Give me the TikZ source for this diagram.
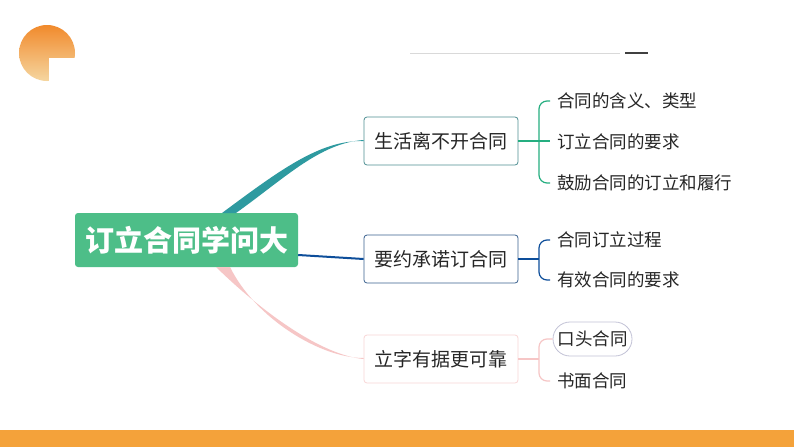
\documentclass[tikz,border=0pt]{standalone}
\usepackage{fontspec}
\setmainfont{Noto Sans CJK SC}
\usetikzlibrary{shapes.misc}
\definecolor{teal1}{HTML}{2E9AA0}
\definecolor{blue1}{HTML}{0D4E9A}
\definecolor{pink1}{HTML}{F6C6C6}
\definecolor{green1}{HTML}{4DBE88}
\definecolor{orng}{HTML}{F4A23A}
\definecolor{logotop}{HTML}{F18A2C}
\definecolor{logobot}{HTML}{F5D6A0}
\tikzset{
  branch/.style={draw=#1,rounded corners=3pt,line width=0.8pt,minimum width=154pt,minimum height=48pt,font=\fontsize{19}{19}\selectfont,text=black!85,fill=white},
  leaf/.style={anchor=west,font=\fontsize{17.5}{17.5}\selectfont,text=black!85,inner sep=0pt},
}
\begin{document}
\begin{tikzpicture}[x=1pt,y=-1pt]
\useasboundingbox (0,0) rectangle (794,447);
\fill[white] (0,0) rectangle (794,447);
% logo
\shade[top color=logotop,bottom color=logobot] (47,53) circle (28);
\fill[white] (49,58) rectangle (78,84);
% top line
\draw[black!15,line width=0.6pt] (410,53) -- (620,53);
\draw[black!75,line width=1.2pt] (625,53) -- (648,53);
% bottom bar
\fill[orng] (0,430) rectangle (794,447);
% nodes
\node[fill=green1,rounded corners=3pt,minimum width=223pt,minimum height=54pt,text=white,font=\fontsize{29}{29}\selectfont\bfseries] (root) at (186.5,240) {订立合同学问大};
\node[branch=teal1!60!gray] (b1) at (441,141) {生活离不开合同};
\node[branch=blue1!60!gray] (b2) at (441,259) {要约承诺订合同};
\node[branch=pink1!70] (b3) at (441,359) {立字有据更可靠};
% root connectors
\fill[teal1] (222,213) .. controls (280,170) and (320,140) .. (b1.west) -- ([yshift=1pt]b1.west) .. controls (320,143) and (285,178) .. (236,213) -- cycle;
\draw[blue1,line width=2pt] (root.east) ++(0,15) .. controls (330,257) .. (b2.west);
\fill[pink1] (216,267) .. controls (260,310) and (320,355) .. (b3.west) -- ([yshift=1pt]b3.west) .. controls (320,358) and (255,318) .. (230,267) -- cycle;
% leaves
\node[leaf] (l11) at (557,101) {合同的含义、类型};
\node[leaf] (l12) at (557,142) {订立合同的要求};
\node[leaf] (l13) at (557,183) {鼓励合同的订立和履行};
\node[leaf] (l21) at (557,240) {合同订立过程};
\node[leaf] (l22) at (557,280) {有效合同的要求};
\node[draw=blue!20!gray!40,line width=0.8pt,rounded rectangle,minimum width=87pt,minimum height=34pt,inner xsep=4pt,font=\fontsize{17.5}{17.5}\selectfont,text=black!85] (l31) at (592.5,339) {口头合同};
\node[leaf] (l32) at (557,381) {书面合同};
% brackets
\begin{scope}[line width=1.2pt,teal1!80!green]
\draw (b1.east) -- (550,141);
\draw (550,101) -- (547,101) to[out=180,in=90] (539,109) -- (539,175) to[out=-90,in=180] (547,183) -- (550,183);
\end{scope}
\begin{scope}[line width=1.2pt,blue1]
\draw (b2.east) -- (539,259);
\draw (550,240) -- (547,240) to[out=180,in=90] (539,248) -- (539,272) to[out=-90,in=180] (547,280) -- (550,280);
\end{scope}
\begin{scope}[line width=1.2pt,pink1]
\draw (b3.east) -- (539,359);
\draw (l31.west) -- (547,339) to[out=180,in=90] (539,347) -- (539,373) to[out=-90,in=180] (547,381) -- (550,381);
\end{scope}
\end{tikzpicture}
\end{document}
